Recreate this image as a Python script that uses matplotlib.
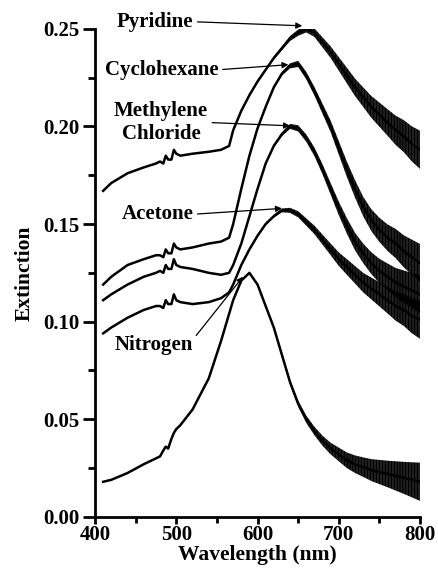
import numpy as np
import matplotlib
matplotlib.use("Agg")
import matplotlib.pyplot as plt
from matplotlib.ticker import MultipleLocator, FormatStrFormatter

plt.rcParams['font.family'] = ['Liberation Serif', 'DejaVu Serif']
plt.rcParams['font.weight'] = 'bold'
plt.rcParams['hatch.linewidth'] = 1.0

# wavelength grid (nm), shared by every spectrum
wl = [410, 420, 440, 460, 475, 480, 484, 487, 490, 494, 497, 500, 505, 520, 540,
      555, 565, 570, 580, 590, 600, 610, 620, 630, 640, 650, 660, 670, 680, 690,
      700, 710, 720, 730, 740, 750, 760, 770, 780, 790, 800]

pyridine = [0.167, 0.171, 0.176, 0.179, 0.181, 0.182, 0.181, 0.185, 0.183, 0.183,
            0.188, 0.186, 0.185, 0.186, 0.187, 0.188, 0.190, 0.198, 0.208, 0.216,
            0.223, 0.229, 0.235, 0.240, 0.245, 0.248, 0.250, 0.248, 0.243, 0.238,
            0.232, 0.226, 0.220, 0.215, 0.210, 0.206, 0.202, 0.198, 0.195, 0.191,
            0.188]
cyclohexane = [0.119, 0.123, 0.129, 0.132, 0.134, 0.134, 0.133, 0.137, 0.135, 0.135,
               0.140, 0.138, 0.137, 0.138, 0.140, 0.141, 0.143, 0.150, 0.168, 0.185,
               0.199, 0.210, 0.220, 0.227, 0.231, 0.232, 0.226, 0.218, 0.209, 0.200,
               0.189, 0.178, 0.168, 0.159, 0.152, 0.147, 0.143, 0.140, 0.136, 0.133,
               0.130]
methylene = [0.111, 0.114, 0.119, 0.123, 0.125, 0.126, 0.125, 0.129, 0.127, 0.127,
             0.132, 0.129, 0.128, 0.127, 0.125, 0.124, 0.125, 0.129, 0.140, 0.154,
             0.168, 0.181, 0.190, 0.196, 0.200, 0.199, 0.194, 0.187, 0.178, 0.168,
             0.158, 0.149, 0.141, 0.135, 0.130, 0.126, 0.123, 0.120, 0.118, 0.116,
             0.114]
acetone = [0.094, 0.097, 0.102, 0.106, 0.108, 0.108, 0.107, 0.111, 0.109, 0.109,
           0.114, 0.111, 0.110, 0.109, 0.110, 0.112, 0.115, 0.119, 0.129, 0.137,
           0.144, 0.150, 0.154, 0.157, 0.157, 0.155, 0.151, 0.147, 0.142, 0.137,
           0.132, 0.128, 0.124, 0.120, 0.117, 0.114, 0.111, 0.108, 0.106, 0.103,
           0.101]
nitrogen = [0.018, 0.019, 0.0225, 0.027, 0.030, 0.031, 0.034, 0.036, 0.035, 0.040,
            0.043, 0.045, 0.047, 0.055, 0.071, 0.090, 0.104, 0.111, 0.121, 0.125,
            0.119, 0.108, 0.097, 0.083, 0.069, 0.058, 0.050, 0.044, 0.039, 0.035,
            0.032, 0.029, 0.027, 0.0255, 0.024, 0.023, 0.022, 0.021, 0.020, 0.019,
            0.018]

# half width of the detector noise band
noise = [0, 0, 0, 0, 0, 0, 0, 0, 0, 0, 0, 0, 0, 0, 0, 0, 0, 0, 0, 0,
         0.0004, 0.0006, 0.0008, 0.001, 0.0013, 0.0016, 0.0019, 0.0022, 0.0026, 0.003,
         0.0035, 0.004, 0.0045, 0.005, 0.0056, 0.0062, 0.0068, 0.0075, 0.0082, 0.009,
         0.0098]

series = [pyridine, cyclohexane, methylene, acetone, nitrogen]

# label text, text anchor (right edge) and arrow tip
labels = ["Pyridine", "Cyclohexane", "Methylene\nChloride", "Acetone", "Nitrogen"]
label_xy = [(521, 0.2536), (552, 0.2290), (539, 0.2020), (521, 0.1550), (520, 0.0880)]
arrow_xy = [(655, 0.2515), (638, 0.2316), (640, 0.2003), (630, 0.1580), (582, 0.1230)]
arrow_from = [(1.0, 0.5), (1.0, 0.5), (1.0, 0.5), (1.0, 0.5), (1.0, 0.75)]

fig = plt.figure(figsize=(4.38, 5.75), dpi=100)
ax = fig.add_axes([0.217, 0.101, 0.742, 0.849])

x = np.array(wl)
nz = np.array(noise)
for ys in series:
    y = np.array(ys)
    # noisy tail: dense vertical strokes, like the raw trace
    ax.fill_between(x, y - nz, y + nz, facecolor='none', edgecolor='black',
                    hatch='|' * 11, lw=0)
    ax.plot(x, y, color='black', lw=1.8)

for text, txy, axy, rp in zip(labels, label_xy, arrow_xy, arrow_from):
    ax.annotate(text, xy=axy, xytext=txy, ha='right', va='center',
                multialignment='center', fontsize=15, fontweight='bold',
                annotation_clip=False,
                arrowprops=dict(arrowstyle='-|>', color='black', lw=0.9,
                                mutation_scale=9, shrinkA=1, shrinkB=0,
                                relpos=rp))

ax.set_xlim(400, 800)
ax.set_ylim(0, 0.25)
ax.xaxis.set_major_locator(MultipleLocator(100))
ax.xaxis.set_minor_locator(MultipleLocator(50))
ax.yaxis.set_major_locator(MultipleLocator(0.05))
ax.yaxis.set_minor_locator(MultipleLocator(0.025))
ax.yaxis.set_major_formatter(FormatStrFormatter('%.2f'))

for s in ['top', 'right']:
    ax.spines[s].set_visible(False)
for s in ['left', 'bottom']:
    ax.spines[s].set_linewidth(2)

ax.tick_params(axis='y', which='major', length=9, width=2, direction='out', pad=2)
ax.tick_params(axis='y', which='minor', length=5, width=2, direction='out')
ax.tick_params(axis='x', which='major', length=5, width=2, direction='out', pad=1)
ax.tick_params(axis='x', which='minor', length=4, width=2, direction='out')
for lab in ax.get_xticklabels() + ax.get_yticklabels():
    lab.set_fontsize(15)
    lab.set_fontweight('bold')

ax.set_xlabel("Wavelength (nm)", fontsize=15.5, fontweight='bold', labelpad=0)
ax.set_ylabel("Extinction", fontsize=15.5, fontweight='bold', labelpad=6)

fig.savefig("out.png", dpi=100)
